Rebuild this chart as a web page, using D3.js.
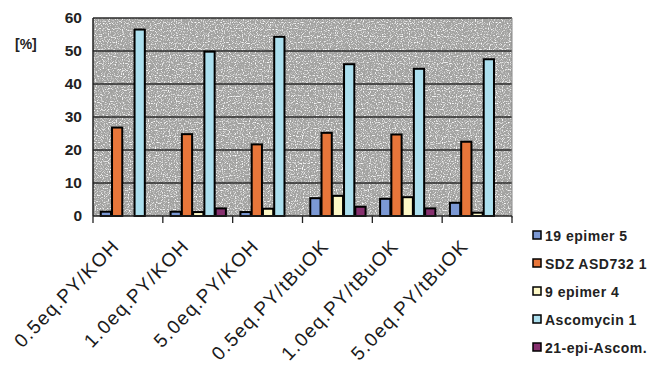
<!DOCTYPE html>
<html><head><meta charset="utf-8">
<script src="https://cdn.jsdelivr.net/npm/d3@7"></script>
<style>body{margin:0;background:#fff}svg{display:block}</style>
</head><body>
<script>
const categories = ["0.5eq.PY/KOH","1.0eq.PY/KOH","5.0eq.PY/KOH","0.5eq.PY/tBuOK","1.0eq.PY/tBuOK","5.0eq.PY/tBuOK"];
const seriesNames = ["19 epimer 5","SDZ ASD732 1","9 epimer 4","Ascomycin 1","21-epi-Ascom."];
const epimer19 = [1.3, 1.3, 1.2, 5.4, 5.2, 4.0];
const sdz = [26.8, 24.8, 21.7, 25.2, 24.7, 22.5];
const epimer9 = [0, 1.2, 2.2, 6.1, 5.7, 1.0];
const ascomycin = [56.5, 49.8, 54.3, 46.0, 44.6, 47.5];
const epiAscom = [0, 2.3, 0, 2.8, 2.3, 0];
const yTicks = [0,10,20,30,40,50,60];
const colors = ["#7b98d4","#e8763a","#fdf8c6","#acdfee","#86306e"];

const series = [epimer19, sdz, epimer9, ascomycin, epiAscom];
const FONT="Liberation Sans, Arial, sans-serif";
const W=653,H=367;
const m={l:93,t:18,r:512,b:216};
const svg=d3.select("body").append("svg").attr("width",W).attr("height",H);
const defs=svg.append("defs");
const f=defs.append("filter").attr("id","grain").attr("x",0).attr("y",0).attr("width","100%").attr("height","100%");
f.append("feTurbulence").attr("type","fractalNoise").attr("baseFrequency",0.85).attr("numOctaves",1).attr("seed",5).attr("result","n");
f.append("feColorMatrix").attr("in","n").attr("type","matrix")
 .attr("values","0 0 0 0 1  0 0 0 0 1  0 0 0 0 1  4 0 0 0 -2.05").attr("result","w");
f.append("feColorMatrix").attr("in","n").attr("type","matrix")
 .attr("values","0 0 0 0 0.35  0 0 0 0 0.35  0 0 0 0 0.35  -4 0 0 0 1.75").attr("result","d");
const mg=f.append("feMerge");
mg.append("feMergeNode").attr("in","SourceGraphic");
mg.append("feMergeNode").attr("in","d");
mg.append("feMergeNode").attr("in","w");
defs.append("clipPath").attr("id","pc").append("rect").attr("x",m.l).attr("y",m.t).attr("width",m.r-m.l).attr("height",m.b-m.t);

const x0=d3.scaleBand().domain(categories).range([m.l,m.r]).padding(0);
const x1=d3.scaleBand().domain(d3.range(5)).range([0,x0.bandwidth()]).paddingInner(0).paddingOuter(0.6);
const y=d3.scaleLinear().domain([0,60]).range([m.b,m.t]);

svg.append("g").attr("clip-path","url(#pc)").append("rect").attr("x",m.l).attr("y",m.t).attr("width",m.r-m.l).attr("height",m.b-m.t)
  .attr("fill","#a3a3a1").attr("filter","url(#grain)");

svg.append("g").selectAll("line").data(yTicks.slice(1)).join("line")
  .attr("x1",m.l).attr("x2",m.r).attr("y1",d=>y(d)).attr("y2",d=>y(d))
  .attr("stroke","#2a2a2a").attr("stroke-width",1.4);

const g=svg.append("g").selectAll("g").data(categories).join("g")
  .attr("transform",d=>`translate(${x0(d)},0)`);
g.selectAll("rect").data((d,i)=>series.map((s,k)=>({k,v:s[i]}))).join("rect")
  .attr("x",d=>x1(d.k)+1).attr("width",x1.bandwidth()-1)
  .attr("y",d=>y(d.v)).attr("height",d=>y(0)-y(d.v))
  .attr("fill",d=>colors[d.k]).attr("stroke","#000").attr("stroke-width",2);

svg.append("line").attr("x1",m.l).attr("x2",m.l).attr("y1",m.t).attr("y2",m.b).attr("stroke","#222").attr("stroke-width",1.5);
svg.append("line").attr("x1",m.r).attr("x2",m.r).attr("y1",m.t).attr("y2",m.b+2).attr("stroke","#888").attr("stroke-width",1);

const yAxis=svg.append("g").attr("transform",`translate(${m.l},0)`)
  .call(d3.axisLeft(y).tickValues(yTicks).tickSize(0).tickPadding(11));
yAxis.select(".domain").remove();
yAxis.selectAll("text").attr("font-family",FONT).attr("font-size",15.5).attr("font-weight","bold").attr("fill","#222");

const xb=svg.append("g").attr("transform",`translate(0,${m.b})`);
xb.append("line").attr("x1",m.l).attr("x2",m.r).attr("stroke","#222").attr("stroke-width",1.5);
const bounds=categories.map(c=>x0(c)).concat([m.r]);
xb.selectAll("line.t").data(bounds).join("line").attr("class","t")
  .attr("x1",d=>d).attr("x2",d=>d).attr("y1",0).attr("y2",7).attr("stroke","#222").attr("stroke-width",1.3);
xb.selectAll("text").data(categories).join("text")
  .attr("transform",d=>`translate(${x0(d)+x0.bandwidth()/2-7.5},${31}) rotate(-46)`)
  .attr("text-anchor","end").attr("font-family",FONT).attr("letter-spacing",1.4)
  .attr("font-size",19).attr("fill","#1a1a1a").text(d=>d);

svg.append("text").attr("x",15).attr("y",49).attr("font-family",FONT)
  .attr("font-size",14).attr("font-weight","bold").attr("fill","#222").text("[%]");

const lg=svg.append("g").selectAll("g").data(seriesNames).join("g")
  .attr("transform",(d,i)=>`translate(533,${236+i*28})`);
lg.append("rect").attr("x",0).attr("y",-5).attr("width",8).attr("height",8)
  .attr("fill",(d,i)=>colors[i]).attr("stroke","#000").attr("stroke-width",1.5);
lg.append("text").attr("x",12).attr("y",5).attr("font-family",FONT).attr("letter-spacing",0.5)
  .attr("font-size",14).attr("font-weight","bold").attr("fill","#222").text(d=>d);
</script>
</body></html>
